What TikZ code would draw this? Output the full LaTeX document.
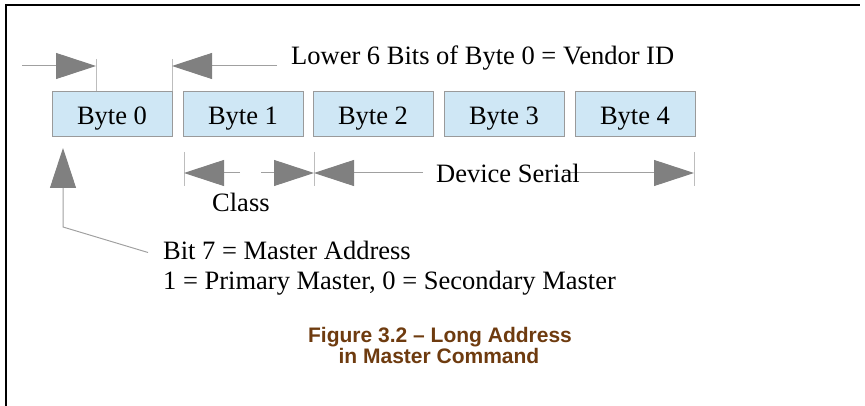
\documentclass[tikz,border=0pt]{standalone}
\usepackage{fontspec}
\setmainfont{Liberation Serif}
\newfontfamily\capfont{Liberation Sans}
\usetikzlibrary{arrows.meta}
\definecolor{boxfill}{HTML}{CFE7F5}
\definecolor{boxdraw}{HTML}{9A9A9A}
\definecolor{tipgray}{HTML}{808080}
\definecolor{linegray}{HTML}{A0A0A0}
\definecolor{tickgray}{HTML}{BDBDBD}
\definecolor{capbrown}{HTML}{6E3B0F}
\begin{document}
\begin{tikzpicture}[x=1pt,y=-1pt,
  bytebox/.style={draw=boxdraw, fill=boxfill, line width=1pt, minimum width=120pt,
    minimum height=45pt, inner sep=0pt, text height=21pt, text depth=0pt,
    font=\fontsize{26.5}{30}\selectfont},
  dimline/.style={draw=linegray, line width=1pt,
    -{Triangle[length=40pt,width=26pt,color=tipgray,fill=tipgray]}},
  tickline/.style={draw=tickgray, line width=1pt},
  lbl/.style={inner sep=0pt, font=\fontsize{26.5}{30}\selectfont},
  captxt/.style={inner sep=0pt, font=\capfont\bfseries\fontsize{21}{22}\selectfont,
    text=capbrown},
  frameline/.style={draw=black, line width=1.5pt}]
\useasboundingbox (0,0) rectangle (865,406);

% frame
\draw[frameline] (6,406) -- (6,5) -- (860,5);

% byte boxes
\node[bytebox] (b0) at (112,114.5) {Byte 0};
\node[bytebox] (b1) at (243,114.5) {Byte 1};
\node[bytebox] (b2) at (373,114.5) {Byte 2};
\node[bytebox] (b3) at (504,114.5) {Byte 3};
\node[bytebox] (b4) at (635,114.5) {Byte 4};

% vendor ID markers
\coordinate (v1t) at (96,59);
\coordinate (v1b) at (96,91);
\coordinate (v2t) at (172,59);
\coordinate (v2b) at (172,91);
\coordinate (v1s) at (22,66);
\coordinate (v1e) at (96,66);
\coordinate (v2s) at (277,66);
\coordinate (v2e) at (172,66);
\draw[tickline] (v1t) -- (v1b);
\draw[tickline] (v2t) -- (v2b);
\draw[dimline] (v1s) -- (v1e);
\draw[dimline] (v2s) -- (v2e);
\node[lbl, anchor=base west] (vendor) at (291,65) {Lower 6 Bits of Byte 0 = Vendor ID};

% class / device serial
\coordinate (t1t) at (184,152);
\coordinate (t1b) at (184,186);
\coordinate (t2t) at (314,152);
\coordinate (t2b) at (314,186);
\coordinate (t3t) at (694,152);
\coordinate (t3b) at (694,186);
\draw[tickline] (t1t) -- (t1b);
\draw[tickline] (t2t) -- (t2b);
\draw[tickline] (t3t) -- (t3b);
\coordinate (c1s) at (240,173);
\coordinate (c1e) at (184,173);
\coordinate (c2s) at (261,173);
\coordinate (c2e) at (314,173);
\coordinate (d1s) at (423,173);
\coordinate (d1e) at (314,173);
\coordinate (d2s) at (563,173);
\coordinate (d2e) at (694,173);
\draw[dimline] (c1s) -- (c1e);
\draw[dimline] (c2s) -- (c2e);
\draw[dimline] (d1s) -- (d1e);
\draw[dimline] (d2s) -- (d2e);
\node[lbl, anchor=base west] (serial) at (436,183) {Device Serial};
\node[lbl, anchor=base west] (class) at (212,212) {Class};

% bit 7 note
\node[lbl, anchor=base west] (bit7) at (163,259) {Bit 7 = Master Address};
\node[lbl, anchor=base west] (prim) at (163,290) {1 = Primary Master, 0 = Secondary Master};
\coordinate (m1) at (148,252.5);
\coordinate (m2) at (63,227);
\coordinate (m3) at (63,148);
\draw[dimline] (m1) -- (m2) -- (m3);

% caption
\node[captxt, anchor=base] (cap1) at (440,342) {Figure 3.2 – Long Address};
\node[captxt, anchor=base] (cap2) at (439,363) {in Master Command};
\end{tikzpicture}
\end{document}
